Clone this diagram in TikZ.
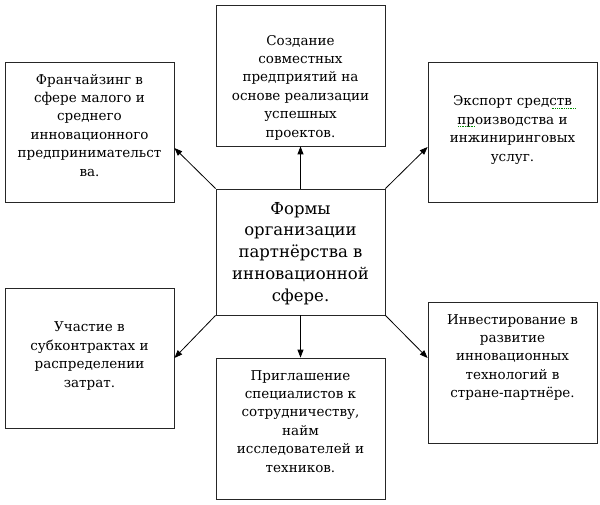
\documentclass[tikz,border=0pt]{standalone}
\usepackage{fontspec}
\setmainfont{DejaVu Serif}
\usetikzlibrary{arrows.meta}
\tikzset{
  box/.style={draw=black!85, line width=0.8pt, inner sep=0pt, minimum width=169pt},
  txt/.style={anchor=north, align=center, inner sep=0pt, text=black,
    font=\fontsize{13.5}{18.4}\selectfont},
  bigtxt/.style={anchor=north, align=center, inner sep=0pt, text=black,
    font=\fontsize{16.5}{21.8}\selectfont},
  arr/.style={draw=black, line width=0.8pt, -{Triangle[length=8pt,width=6pt]}},
  squig/.style={draw=green!55!black, line width=0.7pt, dash pattern=on 0.9pt off 0.9pt}
}
\begin{document}
\begin{tikzpicture}[x=1pt,y=-1pt]
\useasboundingbox (0,0) rectangle (600,505);
\fill[white] (0,0) rectangle (600,505);
% boxes
\node[box, minimum height=140pt] (fr) at (89.5,132) {};
\node[box, minimum height=141pt] (so) at (300.5,75.5) {};
\node[box, minimum height=140pt] (ex) at (512.5,132) {};
\node[box, minimum height=126pt] (ce) at (300.5,252) {};
\node[box, minimum height=140pt] (uc) at (89.5,358) {};
\node[box, minimum height=141pt] (pr) at (300.5,428.5) {};
\node[box, minimum height=141pt] (in) at (512.5,372.5) {};
% texts
\node[txt] (frt) at (89.5,71.1) {\strut Франчайзинг в\\сфере малого и\\среднего\\инновационного\\предпринимательст\\ва.};
\node[txt] (sot) at (300.5,32.1) {\strut Создание\\совместных\\предприятий на\\основе реализации\\успешных\\проектов.};
\node[txt] (ext) at (512.5,92.8) {\strut Экспорт средств\\производства и\\инжиниринговых\\услуг.};
\node[bigtxt] (cet) at (300.5,198.7) {\strut Формы\\организации\\партнёрства в\\инновационной\\сфере.};
\node[txt] (uct) at (89.5,318.8) {\strut Участие в\\субконтрактах и\\распределении\\затрат.};
\node[txt] (prt) at (300.5,367.1) {\strut Приглашение\\специалистов к\\сотрудничеству,\\найм\\исследователей и\\техников.};
\node[txt] (int) at (512.5,311.1) {\strut Инвестирование в\\развитие\\инновационных\\технологий в\\стране-партнёре.};
% spell-check underlines
\draw[squig] (551.5,108) -- (575.5,108);
\draw[squig] (458,126.5) -- (475,126.5);
% arrows
\draw[arr] (ce.north west) -- ([yshift=-16pt]fr.east);
\draw[arr] (ce.north) -- (so.south);
\draw[arr] (ce.north east) -- ([yshift=-15pt]ex.west);
\draw[arr] (ce.south west) -- (uc.east);
\draw[arr] (ce.south) -- (pr.north);
\draw[arr] (ce.south east) -- ([yshift=14.5pt]in.west);
\end{tikzpicture}
\end{document}
